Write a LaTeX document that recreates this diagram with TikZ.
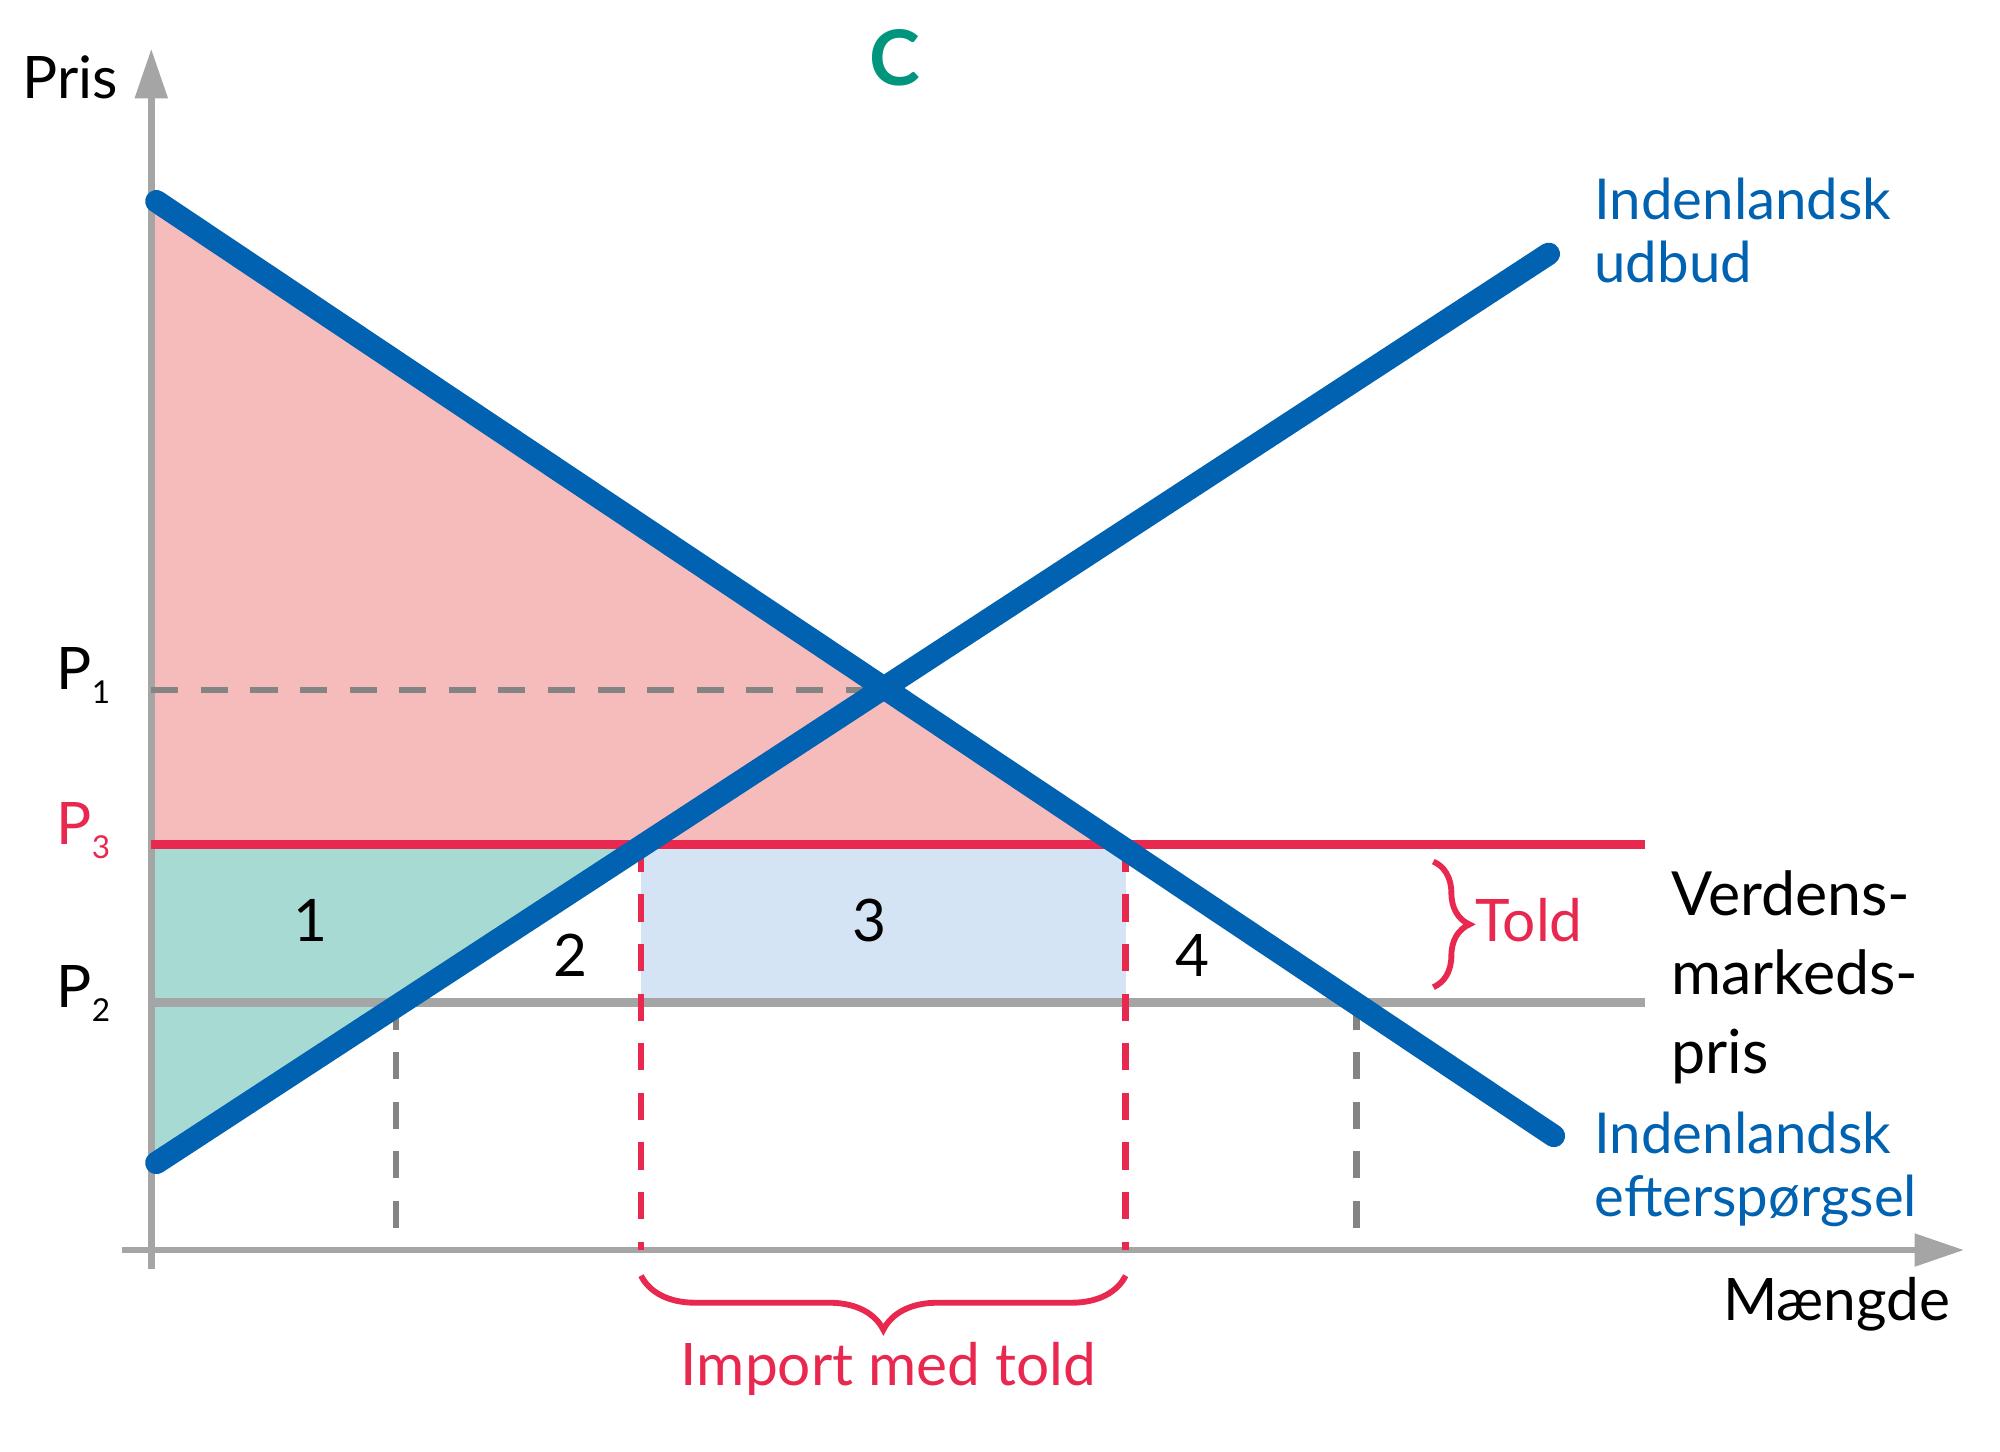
\documentclass[tikz,border=0pt]{standalone}
\usepackage{fontspec}
\setmainfont{Lato}
\usepackage{tikz}
\usetikzlibrary{arrows.meta,decorations.pathreplacing}
\definecolor{curveblue}{RGB}{0,98,176}
\definecolor{surplus}{RGB}{246,187,187}
\definecolor{tealfill}{RGB}{168,218,212}
\definecolor{boxblue}{RGB}{212,228,244}
\definecolor{toldred}{RGB}{232,40,78}
\definecolor{titleteal}{RGB}{0,150,125}
\definecolor{axisgray}{RGB}{165,165,165}
\newcommand{\pidxfont}{\fontsize{7}{8}\selectfont}
\tikzset{
  curve/.style={draw=curveblue, line width=5pt, line cap=round},
  lbl/.style={font=\fontsize{13}{15}\selectfont},
  bluelbl/.style={font=\fontsize{12.5}{14}\selectfont, text=curveblue, align=left, anchor=west, inner sep=0pt},
  vdash/.style={dashed, dash pattern=on 6pt off 5pt, line width=1.4pt}
}
\begin{document}
\begin{tikzpicture}[x=0.01cm,y=-0.01cm]
	\useasboundingbox (0,0) rectangle (1560,1132);
	\tikzstyle{every node}=[lbl]
	% ------------------- Points ------------------- %
	\coordinate (dtop) at (122,157);
	\coordinate (dend) at (1212,886);
	\coordinate (sbot) at (122,907);
	\coordinate (send) at (1208,198);
	\coordinate (eq) at (688,538);
	\coordinate (sA) at (500,659);
	\coordinate (dA) at (878,659);
	\coordinate (sB) at (309,782);
	\coordinate (dB) at (1058,782);
	
	% ------------------- Areas ------------------- %
	\fill[surplus] (118,157) -- (dA) -- (118,659) -- cycle;
	\fill[tealfill] (118,659) -- (sA) -- (118,907) -- cycle;
	\fill[boxblue] (sA) rectangle (878,782);
	
	% ------------------- Axes ------------------- %
	\draw[axisgray, line width=1.5pt, -{Triangle[length=11pt,width=7pt]}] (118,990) -- (118,38);
	\draw[axisgray, line width=1.5pt, -{Triangle[length=11pt,width=7pt]}] (95,975) -- (1532,975);
	
	% ------------------- Price lines ------------------- %
	\draw[axisgray!80!black, vdash] (118,538) -- (eq);
	\draw[axisgray, line width=2pt] (118,782) -- (1283,782);
	\draw[toldred, line width=2pt] (118,659) -- (1283,659);
	\draw[toldred, vdash] (sA) -- (500,975);
	\draw[toldred, vdash] (dA) -- (878,975);
	\draw[axisgray!80!black, vdash] (sB) -- (309,975);
	\draw[axisgray!80!black, vdash] (dB) -- (1058,975);
	
	% ------------------- Curves ------------------- %
	\draw[curve] (dtop) -- (dend);
	\draw[curve] (sbot) -- (send);
	
	% ------------------- Labels ------------------- %
	\node (pris) at (55,60) {Pris};
	\node[font=\bfseries\fontsize{17}{20}\selectfont, text=titleteal] (title) at (698,45) {C};
	\node (p1) at (65,527) {P\raisebox{-0.45ex}{\pidxfont 1}};
	\node[text=toldred] (p3) at (65,648) {P\raisebox{-0.45ex}{\pidxfont 3}};
	\node (p2) at (65,775) {P\raisebox{-0.45ex}{\pidxfont 2}};
	\node (a1) at (242,718) {1};
	\node (a2) at (445,745) {2};
	\node (a3) at (678,718) {3};
	\node (a4) at (930,745) {4};
	\node[bluelbl] (supply) at (1243,180) {Indenlandsk\\udbud};
	\node[bluelbl] (demand) at (1243,912) {Indenlandsk\\efterspørgsel};
	\node[anchor=west, align=left, inner sep=0pt, font=\fontsize{13.5}{17.5}\selectfont] (world) at (1303,762) {Verdens-\\markeds-\\pris};
	\node[anchor=east, inner sep=0pt] (qty) at (1522,1017) {Mængde};
	\node[text=toldred, anchor=west, inner sep=0pt] (told) at (1150,718) {Told};
	\node[text=toldred] (imp) at (693,1068) {Import med told};
	
	% ------------------- Braces ------------------- %
	\draw[toldred, line width=1.3pt, decorate, decoration={brace, amplitude=8pt}] (1118,672) -- (1118,770);
	\draw[toldred, line width=1.3pt, decorate, decoration={brace, amplitude=12pt}] (878,995) -- (500,995);
\end{tikzpicture}
\end{document}
